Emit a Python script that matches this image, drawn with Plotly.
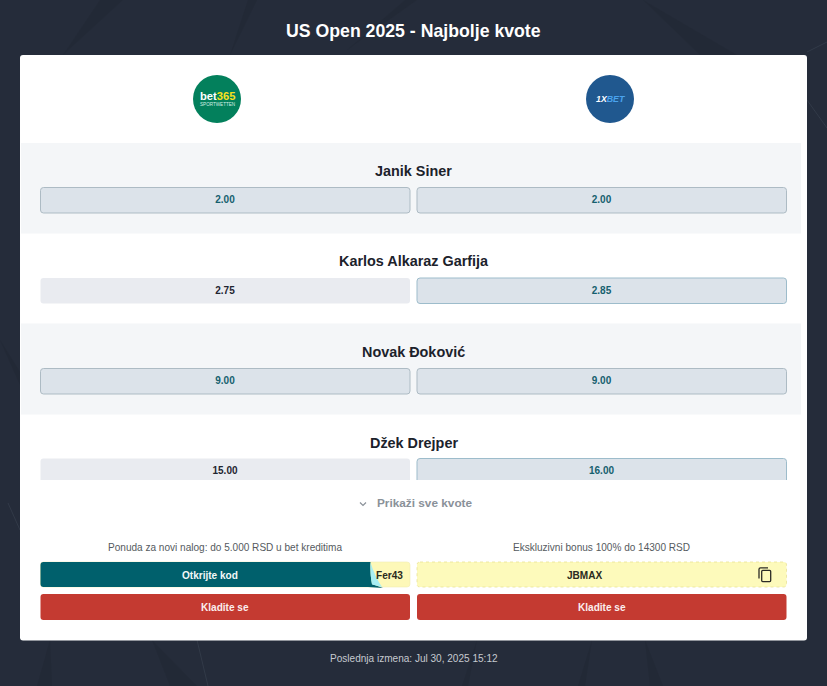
import plotly.graph_objects as go

title = "US Open 2025 - Najbolje kvote"
players = ["Janik Siner", "Karlos Alkaraz Garfija", "Novak Đoković", "Džek Drejper"]
odds_bet365 = [2.00, 2.75, 9.00, 15.00]
odds_1xbet = [2.00, 2.85, 9.00, 16.00]
offers = ["Ponuda za novi nalog: do 5.000 RSD u bet kreditima",
          "Ekskluzivni bonus 100% do 14300 RSD"]
codes = ["Fer43", "JBMAX"]
reveal_label = "Otkrijte kod"
bet_label = "Kladite se"
show_all_label = "Prikaži sve kvote"
footer = "Poslednja izmena: Jul 30, 2025 15:12"

FONT = "Liberation Sans, Arial, sans-serif"
BG = "#252c3a"
TEAL = "#00606c"
BEST_FILL = "#dce3ea"
PLAIN_FILL = "#e9ebf0"
RED = "#c43a31"

# layout in page pixels
LEFT = (40.5, 410)
RIGHT = (417, 786.5)
COLS = [LEFT, RIGHT]
COL_X = [225, 601.5]
ROW_NAME_Y = [170.5, 260.5, 351.5, 442.5]
ROW_BTN_TOP = [187.5, 278, 368.5, 458.5]
BTN_H = 25.5

shapes = []
annotations = []


def rrect(x0, y0, x1, y1, r=3):
    return (f"M{x0+r},{y0} L{x1-r},{y0} Q{x1},{y0} {x1},{y0+r} L{x1},{y1-r} Q{x1},{y1} {x1-r},{y1} "
            f"L{x0+r},{y1} Q{x0},{y1} {x0},{y1-r} L{x0},{y0+r} Q{x0},{y0} {x0+r},{y0} Z")


def add_path(path, fill=None, line=None, width=0, dash=None, opacity=None):
    s = dict(type="path", path=path, xref="x", yref="y", layer="below", line=dict(width=width))
    if fill:
        s["fillcolor"] = fill
    if line:
        s["line"]["color"] = line
    if dash:
        s["line"]["dash"] = dash
    if opacity:
        s["opacity"] = opacity
    shapes.append(s)


def add_text(x, y, text, size, color, bold=False):
    annotations.append(dict(x=x, y=y, xref="x", yref="y", text=f"<b>{text}</b>" if bold else text,
                            showarrow=False, xanchor="center", yanchor="middle", borderpad=0,
                            font=dict(family=FONT, size=size, color=color)))


# background streaks
for a, b, c in [((63, 55), (123, 0), (100, 0)), ((230, 55), (257, 0), (248, 0)),
                ((347, 50), (417, 0), (405, 0)), ((643, 0), (737, 55), (700, 55)),
                ((50, 640), (37, 686), (52, 686)), ((152, 640), (197, 686), (170, 686)),
                ((645, 640), (663, 686), (650, 686)), ((477, 640), (468, 686), (462, 686)),
                ((592, 640), (585, 686), (578, 686)), ((0, 340), (20, 372), (20, 385))]:
    add_path(f"M{a[0]},{a[1]} L{b[0]},{b[1]} L{c[0]},{c[1]} Z", fill="#1d2330", opacity=0.3)
for a, b in [((197, 640), (208, 686)), ((807, 52), (827, 42)), ((807, 100), (827, 128)), ((8, 503), (20, 530))]:
    add_path(f"M{a[0]},{a[1]} L{b[0]},{b[1]}", line="#323a48", width=1)

# card
add_path(rrect(20, 55, 807, 640.5), fill="white")
for top, bottom in [(143, 233.5), (323.5, 414.5)]:
    add_path(rrect(21, top, 801, bottom, 0), fill="#f4f6f8")

# logos
shapes.append(dict(type="circle", x0=193, x1=241, y0=75, y1=123, xref="x", yref="y", layer="below",
                   fillcolor="#03805c", line=dict(width=0)))
shapes.append(dict(type="circle", x0=586, x1=634, y0=75, y1=123, xref="x", yref="y", layer="below",
                   fillcolor="#20588f", line=dict(width=0)))
add_text(217, 96, 'bet<span style="color:#f7e01c">365</span>', 11.2, "white", bold=True)
add_text(217, 104.5, "SPORTWETTEN", 4.6, "#d5efe5")
add_text(610.5, 99, '<i>1X<span style="color:#4aa3ee">BET</span></i>', 8.8, "white", bold=True)

# odds buttons
for i in range(len(players)):
    add_text(413.5, ROW_NAME_Y[i], players[i], 14.4, "#1c222b", bold=True)
    top = ROW_BTN_TOP[i]
    best = max(odds_bet365[i], odds_1xbet[i])
    for (x0, x1), val in zip(COLS, [odds_bet365[i], odds_1xbet[i]]):
        if val == best:
            edge = "#9dbccb" if i in (1, 3) else "#adbbc4"
            add_path(rrect(x0, top, x1, top + BTN_H), fill=BEST_FILL, line=edge, width=1)
        else:
            add_path(rrect(x0, top, x1, top + BTN_H), fill=PLAIN_FILL)

# last row is cut off by the collapsed panel
add_path(rrect(21, 480, 801, 530, 0), fill="white")

# show all
add_path("M360,502.5 L363,505.5 L366,502.5", line="#8a9199", width=1.2)
add_text(424.5, 503, show_all_label, 11.8, "#8a9199", bold=True)

# offers
for x, text in zip(COL_X, offers):
    add_text(x, 547, text, 10.05, "#555a60")

# code boxes
BOX_TOP, BOX_BOTTOM = 562, 587
add_path(rrect(LEFT[0], BOX_TOP, LEFT[1], BOX_BOTTOM), fill="#fdf8b8", line="#f1ecb4", width=0.6)
add_path(rrect(RIGHT[0], BOX_TOP, RIGHT[1], BOX_BOTTOM), fill="#fdfabb", line="#e8e296", width=0.8, dash="dot")
add_path("M43.5,562 L370.5,562 Q370,575 372,584 L383,588 L368,587 L43.5,587 Q40.5,587 40.5,584 L40.5,565 Q40.5,562 43.5,562 Z",
         fill=TEAL)
add_path("M370.5,562.5 Q375,577 382,587 L372,584.5 Q370,575 370.5,562.5 Z", fill="#a8eef2")
add_text(210, 575, reveal_label, 10.05, "#f2f8f8", bold=True)
add_text(389, 575, codes[0], 10.05, "#2a2a20", bold=True)
add_text(584, 575, codes[1], 10.05, "#2a2a20", bold=True)

# copy icon
add_path("M768,567.8 L760.5,567.8 Q759,567.8 759,569.3 L759,578.5", line="#2b2b26", width=1.3)
add_path(rrect(761.7, 570.4, 770.7, 581.6, 1), line="#2b2b26", width=1.3)

# bet buttons
for (x0, x1), x in zip(COLS, COL_X):
    add_path(rrect(x0, 594, x1, 620), fill=RED)
    add_text(x, 607, bet_label, 10.05, "#fbeeee", bold=True)

add_text(413.5, 31, title, 17.7, "white", bold=True)
add_text(413.5, 658, footer, 10.05, "#c6cad0")

# odds labels
odds_x = []
odds_y = []
odds_text = []
odds_color = []
for i in range(len(players)):
    best = max(odds_bet365[i], odds_1xbet[i])
    for x, val in zip(COL_X, [odds_bet365[i], odds_1xbet[i]]):
        odds_x.append(x)
        odds_y.append(ROW_BTN_TOP[i] + 13)
        odds_text.append(f"<b>{val:.2f}</b>")
        odds_color.append("#15606e" if val == best else "#1f2530")

fig = go.Figure(go.Scatter(x=odds_x, y=odds_y, mode="text", text=odds_text,
                           textposition="middle center",
                           textfont=dict(family=FONT, size=10, color=odds_color),
                           hoverinfo="skip"))
fig.update_layout(width=827, height=686, margin=dict(l=0, r=0, t=0, b=0),
                  paper_bgcolor=BG, plot_bgcolor=BG, showlegend=False,
                  shapes=shapes, annotations=annotations,
                  xaxis=dict(range=[0, 827], visible=False, fixedrange=True),
                  yaxis=dict(range=[686, 0], visible=False, fixedrange=True))
fig.write_html("out.html", config=dict(displayModeBar=False),
               post_script="document.body.style.margin='0';document.body.style.overflow='hidden';")
